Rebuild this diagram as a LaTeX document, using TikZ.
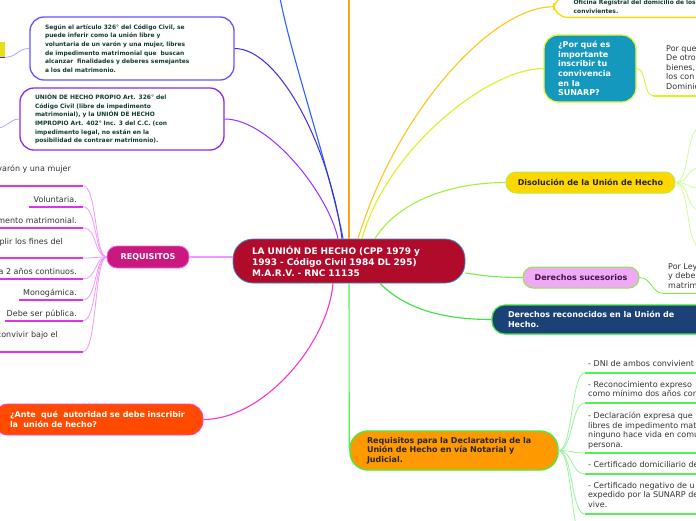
\documentclass[tikz,border=0pt]{standalone}
\usepackage{fontspec}
\setmainfont{DejaVu Sans}
\usetikzlibrary{calc}
\definecolor{cfill}{HTML}{B00B2B}
\definecolor{cdraw}{HTML}{3B8CC5}
\definecolor{tgreen}{HTML}{123D2B}
\definecolor{bonedraw}{HTML}{6B50FF}
\definecolor{btwodraw}{HTML}{8C2BE8}
\definecolor{reqfill}{HTML}{C9197E}
\definecolor{reqdraw}{HTML}{EE66EE}
\definecolor{iline}{HTML}{DD33EE}
\definecolor{iconn}{HTML}{EE99FF}
\definecolor{antefill}{HTML}{FF4A00}
\definecolor{antedraw}{HTML}{FF44CC}
\definecolor{ofidraw}{HTML}{FFD800}
\definecolor{sunfill}{HTML}{1598BE}
\definecolor{sundraw}{HTML}{E2F83A}
\definecolor{disfill}{HTML}{FFD700}
\definecolor{disdraw}{HTML}{B5EE45}
\definecolor{dsfill}{HTML}{EEAAF4}
\definecolor{dsdraw}{HTML}{8CE64C}
\definecolor{dstext}{HTML}{4A1048}
\definecolor{drfill}{HTML}{1B4177}
\definecolor{drdraw}{HTML}{3DE03D}
\definecolor{rnfill}{HTML}{FF9900}
\definecolor{rndraw}{HTML}{4EEA3A}
\definecolor{gline}{HTML}{55EE55}
\definecolor{gconn}{HTML}{99F59F}
\definecolor{itxt}{HTML}{333333}
\definecolor{yelfill}{HTML}{E8DF1A}
\definecolor{clp}{HTML}{B9A0FF}
\definecolor{cblue}{HTML}{2962FF}
\definecolor{cdblue}{HTML}{3A2FD9}
\definecolor{cpurple}{HTML}{9B30FF}
\definecolor{corange}{HTML}{FFA31A}
\definecolor{cgold}{HTML}{FFC61A}
\definecolor{cyg}{HTML}{DDF020}
\definecolor{clg}{HTML}{A6F03C}
\definecolor{cgr}{HTML}{77EE44}
\definecolor{cmag}{HTML}{FF33CC}
\definecolor{dlg}{HTML}{CCFF99}
\begin{document}
\begin{tikzpicture}[x=1pt,y=-1pt,
  boxtxt/.style={font=\fontsize{5.95}{8.6}\selectfont\bfseries, text=tgreen, align=left},
  midfont/.style={font=\fontsize{8}{9.6}\selectfont\bfseries},
  itemtxt/.style={font=\fontsize{8}{9.6}\selectfont, text=itxt, inner sep=0pt},
  uline/.style={line width=1.6pt},
  conn/.style={line width=0.8pt},
  mainconn/.style={line width=1.1pt}
]
\useasboundingbox[fill=white] (0,0) rectangle (696,520);

% ---- nodes
\node[draw=cdraw, fill=cfill, line width=0.8pt, rounded corners=20pt,
  minimum height=44pt, inner xsep=19pt, text width=194pt, align=left, text=white,
  font=\fontsize{9}{11}\selectfont\bfseries] (center) at (349,261)
  {LA UNIÓN DE HECHO (CPP 1979 y\\1993 - Código Civil 1984 DL 295)\\M.A.R.V. - RNC 11135};

\node[draw=bonedraw, fill=white, line width=1.3pt, rounded corners=14pt, boxtxt,
  minimum height=63pt, inner xsep=15pt, text width=174pt] (box1) at (132,48.5)
  {Según el artículo 326° del Código Civil, se\\puede inferir como la unión libre y\\voluntaria de un varón y una mujer, libres\\de impedimento matrimonial que\ \ buscan\\alcanzar\ \ finalidades y deberes semejantes\\a los del matrimonio.};

\node[draw=btwodraw, fill=white, line width=1.3pt, rounded corners=14pt, boxtxt,
  minimum height=62pt, inner xsep=15pt, text width=174pt] (box2) at (122,119)
  {UNIÓN DE HECHO PROPIO Art. 326° del\\Código Civil (libre de impedimento\\matrimonial), y la UNIÓN DE HECHO\\IMPROPIO Art. 402° Inc. 3 del C.C. (con\\impedimento legal, no están en la\\posibilidad de contraer matrimonio).};

\node[fill=yelfill, minimum width=45pt, minimum height=15pt, inner sep=0pt] (yel) at (-17.5,49.5) {};

\node[draw=reqdraw, fill=reqfill, line width=0.8pt, rounded corners=10pt, midfont, text=white,
  minimum width=82pt, minimum height=22pt, inner sep=0pt] (req) at (148,257) {REQUISITOS};

\node[draw=antedraw, fill=antefill, line width=0.8pt, rounded corners=14pt, midfont, text=white,
  minimum height=31pt, inner xsep=16pt, text width=177pt, align=left] (ante) at (98.5,419.5)
  {¿Ante\ \ qué\ \ autoridad se debe inscribir\\la\ \ unión de hecho?};

\node[draw=ofidraw, fill=white, line width=1.3pt, rounded corners=14pt, boxtxt,
  anchor=south west, inner xsep=20pt, inner ysep=4pt, text width=190pt] (ofi) at (553,18)
  {Oficina Registral del domicilio de los\\convivientes.};

\node[draw=sundraw, fill=sunfill, line width=1.3pt, rounded corners=14pt, midfont, text=white,
  minimum height=67pt, inner xsep=14pt, text width=64pt, align=left] (sun) at (590,68.5)
  {¿Por qué es\\importante\\inscribir tu\\convivencia\\en la\\SUNARP?};

\node[draw=disdraw, fill=disfill, line width=1pt, rounded corners=10pt, midfont, text=black!85,
  minimum width=169pt, minimum height=21pt, inner sep=0pt] (dis) at (590.5,182.5)
  {Disolución de la Unión de Hecho};

\node[draw=dsdraw, fill=dsfill, line width=1pt, rounded corners=10pt, midfont, text=dstext,
  minimum width=116pt, minimum height=21pt, inner sep=0pt] (ds) at (581,277.5)
  {Derechos sucesorios};

\node[draw=drdraw, fill=drfill, line width=1.2pt, rounded corners=13pt, midfont, text=white,
  minimum height=29pt, inner xsep=16pt, text width=188pt, align=left] (dr) at (602,319.5)
  {Derechos reconocidos en la Unión de\\Hecho.};

\node[draw=rndraw, fill=rnfill, line width=1.4pt, rounded corners=18pt, midfont, text=black!85,
  minimum height=39pt, inner xsep=17pt, text width=174pt, align=left] (rn) at (454,450.5)
  {Requisitos para la Declaratoria de la\\Unión de Hecho en vía Notarial y\\Judicial.};

% ---- free ends
\coordinate (topblue) at (280,-2);
\coordinate (toporange) at (349,-2);
\coordinate (b2l) at (-3,128);

% ---- main connectors
\draw[mainconn, cblue] (topblue) .. controls (292,60) and (330,170) .. ($(center.north)+(-6,0)$);
\draw[conn, cdblue, line width=1pt] (box1.east) .. controls +(45,0) and +(-12,-90) .. ($(center.north)+(-7,0)$);
\draw[conn, cpurple, line width=1pt] (box2.east) .. controls +(45,0) and +(-10,-45) .. ($(center.north)+(-11,0)$);
\draw[mainconn, corange] (toporange) -- (center.north);
\draw[mainconn, cgold] (ofi.west) .. controls +(-60,0) and +(40,-130) .. ($(center.north)+(9,0)$);
\draw[mainconn, cyg] (sun.west) .. controls +(-55,0) and +(25,-90) .. ($(center.north)+(13,0)$);
\draw[mainconn, clg] (dis.west) .. controls +(-50,0) and +(25,-40) .. ($(center.north)+(26,0)$);
\draw[mainconn, cgr] ($(center.east)+(0,12)$) .. controls +(20,3) and +(-25,0) .. (ds.west);
\draw[mainconn, drdraw] ($(center.south)+(31,0)$) .. controls +(25,25) and +(-50,0) .. (dr.west);
\draw[mainconn, gline] (center.south) -- (rn.west);
\draw[mainconn, cmag] ($(center.south)+(-16,0)$) .. controls +(-5,60) and +(60,0) .. (ante.east);
\draw[mainconn, iconn] (req.east) -- (req.east -| center.west);

\draw[conn, clp] (box1.west) .. controls +(-12,0) and +(12,0) .. (yel.south east);
\draw[line width=1.2pt, cdblue] (yel.south west) -- (yel.south east);
\draw[conn, clp] (box2.west) .. controls +(-10,0) and +(10,0) .. (b2l);

% ---- REQUISITOS items
\coordinate (u1) at (83,185.7);
\coordinate (u2) at (83,206.7);
\coordinate (u3) at (83,227.7);
\coordinate (u4) at (83,258);
\coordinate (u5) at (83,279);
\coordinate (u6) at (83,300);
\coordinate (u7) at (83,320.7);
\coordinate (u8) at (83,351.7);
\node[itemtxt, anchor=base east] (t1) at (71,171) {varón y una mujer};
\node[itemtxt, anchor=base east] (t2) at (77,202) {Voluntaria.};
\node[itemtxt, anchor=base east] (t3) at (77,223) {mento matrimonial.};
\node[itemtxt, anchor=base east] (t4) at (63,244) {plir los fines del};
\node[itemtxt, anchor=base east] (t5) at (77,274) {a 2 años continuos.};
\node[itemtxt, anchor=base east] (t6) at (77,295) {Monogámica.};
\node[itemtxt, anchor=base east] (t7) at (77,316) {Debe ser pública.};
\node[itemtxt, anchor=base east] (t8) at (58,337) {convivir bajo el};
\foreach \u in {u1,u3,u4,u5,u8} {\draw[uline, iline] (\u) -- ++(-90,0);}
\draw[uline, iline] (u2) -- ($(u2 -| t2.west)+(-4,0)$);
\draw[uline, iline] (u6) -- ($(u6 -| t6.west)+(-4,0)$);
\draw[uline, iline] (u7) -- ($(u7 -| t7.west)+(-2,0)$);
\foreach \u in {u1,u2,u3,u4,u5,u6,u7,u8} {\draw[conn, iconn] (\u) .. controls +(14,0) and +(-12,0) .. (req.west);}

% ---- SUNARP right
\coordinate (su) at (653,95.7);
\draw[conn, cyg] (sun.east) .. controls +(10,0) and +(-10,0) .. (su);
\draw[uline, cyg] (su) -- ++(50,0);
\node[itemtxt, anchor=north west, align=left] (sut) at (666,45) {Por que\\De otro\\bienes,\\los con\\Dominio};

% ---- Disolucion branches
\coordinate (d1) at (700,128);
\coordinate (d2) at (700,168);
\coordinate (d3) at (700,188);
\coordinate (d4) at (700,210);
\coordinate (d5) at (700,247);
\foreach \d in {d1,d2,d3,d4,d5} {\draw[conn, dlg] (dis.east) .. controls +(14,0) and +(-14,0) .. (\d);}

% ---- Derechos sucesorios right
\coordinate (dsu) at (664,293.5);
\draw[conn, cgr] (ds.east) .. controls +(12,0) and +(-12,0) .. (dsu);
\draw[uline, cgr] (dsu) -- ++(40,0);
\node[itemtxt, anchor=north west, align=left] (dst) at (668,263) {Por Ley\\y debe\\matrim};

% ---- Requisitos notarial items
\coordinate (r1) at (585,372.7);
\coordinate (r2) at (585,403);
\coordinate (r3) at (585,453);
\coordinate (r4) at (585,474);
\coordinate (r5) at (585,514);
\coordinate (r6) at (585,545);
\foreach \r in {r1,r2,r3,r4,r5,r6} {\draw[conn, gconn] (rn.east) .. controls +(14,0) and +(-14,0) .. (\r);}
\foreach \r in {r1,r2,r3,r4,r5} {\draw[uline, gline] (\r) -- ++(120,0);}
\node[itemtxt, anchor=north west, align=left] (n1) at (588,360) {- DNI de ambos convivient};
\node[itemtxt, anchor=north west, align=left] (n2) at (588,381) {- Reconocimiento expreso\\como mínimo dos años con};
\node[itemtxt, anchor=north west, align=left] (n3) at (588,412) {- Declaración expresa que\\libres de impedimento mat\\ninguno hace vida en comu\\persona.};
\node[itemtxt, anchor=north west, align=left] (n4) at (588,461) {- Certificado domiciliario de};
\node[itemtxt, anchor=north west, align=left] (n5) at (588,482) {- Certificado negativo de u\\expedido por la SUNARP de\\vive.};
\end{tikzpicture}
\end{document}
